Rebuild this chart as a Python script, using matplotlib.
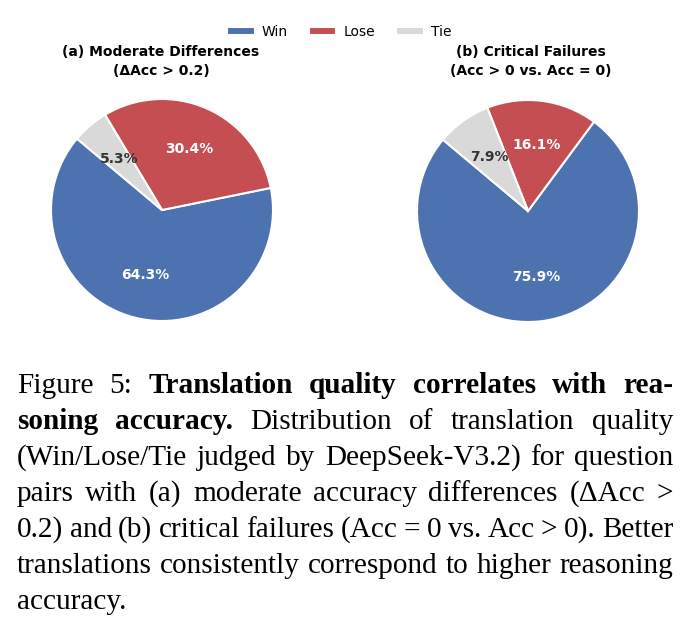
import matplotlib
matplotlib.use('Agg')
import matplotlib.pyplot as plt

labels = ['Win', 'Lose', 'Tie']
colors = ['#4C72B0', '#C44E52', '#D9D9D9']
moderate = [64.3, 30.4, 5.3]
critical = [75.9, 16.1, 7.9]
titles = ['(a) Moderate Differences\n(ΔAcc > 0.2)',
          '(b) Critical Failures\n(Acc > 0 vs. Acc = 0)']

# caption lines as (text, bold) chunks, justified by hand
caption = [
    [('Figure 5:', False), ('Translation quality correlates with rea-', True)],
    [('soning accuracy.', True), ('Distribution of translation quality', False)],
    [('(Win/Lose/Tie judged by DeepSeek-V3.2) for question', False)],
    [('pairs with (a) moderate accuracy differences (ΔAcc >', False)],
    [('0.2) and (b) critical failures (Acc = 0 vs. Acc > 0). Better', False)],
    [('translations consistently correspond to higher reasoning', False)],
    [('accuracy.', False)],
]

W, H = 692, 631
fig = plt.figure(figsize=(W / 100, H / 100), dpi=100)


def pie_axes(cx, cy, size=277.5):
    return fig.add_axes([(cx - size / 2) / W, 1 - (cy + size / 2) / H, size / W, size / H])


def draw_pie(ax, values):
    it = iter(values)
    wedges, _, autotexts = ax.pie(
        values, colors=colors, startangle=140, counterclock=True,
        autopct=lambda p: f'{next(it):.1f}%', pctdistance=0.6,
        wedgeprops=dict(edgecolor='white', linewidth=1.5),
        textprops=dict(fontsize=10, fontweight='bold'))
    for t, c in zip(autotexts, ['white', 'white', '#333333']):
        t.set_color(c)
    ax.set_aspect('equal')
    return wedges


ax1 = pie_axes(162, 210)
wedges = draw_pie(ax1, moderate)
ax2 = pie_axes(528, 211)
draw_pie(ax2, critical)

for x, t in zip([161, 531], titles):
    fig.text(x / W, 1 - 61.5 / H, t, ha='center', va='center', fontsize=10,
             fontweight='bold', linespacing=1.4)

fig.legend(wedges, labels, loc='center', bbox_to_anchor=(339 / W, 1 - 32 / H),
           ncol=3, frameon=False, fontsize=10, handlelength=2.0, handleheight=0.55,
           handletextpad=0.5, columnspacing=1.5)

# caption
FS = 21.1
FAM = 'Liberation Serif'
x0, x1 = 17, 673
base0, step = 393, 36
fig.canvas.draw()
r = fig.canvas.get_renderer()


def width(s, bold):
    t = fig.text(0, 0, s, fontsize=FS, family=FAM, fontweight='bold' if bold else 'normal')
    w = t.get_window_extent(r).width
    t.remove()
    return w


for i, line in enumerate(caption):
    words = [(w, b) for chunk, b in line for w in chunk.split(' ')]
    widths = [width(w, b) for w, b in words]
    last = i == len(caption) - 1
    gap = width('a a', False) - 2 * width('a', False) if last else \
        (x1 - x0 - sum(widths)) / (len(words) - 1)
    x = x0
    y = base0 + i * step
    for (w, b), ww in zip(words, widths):
        fig.text(x / W, 1 - y / H, w, fontsize=FS, family=FAM,
                 fontweight='bold' if b else 'normal', va='baseline', ha='left')
        x += ww + gap

fig.savefig('out.png', dpi=100)
